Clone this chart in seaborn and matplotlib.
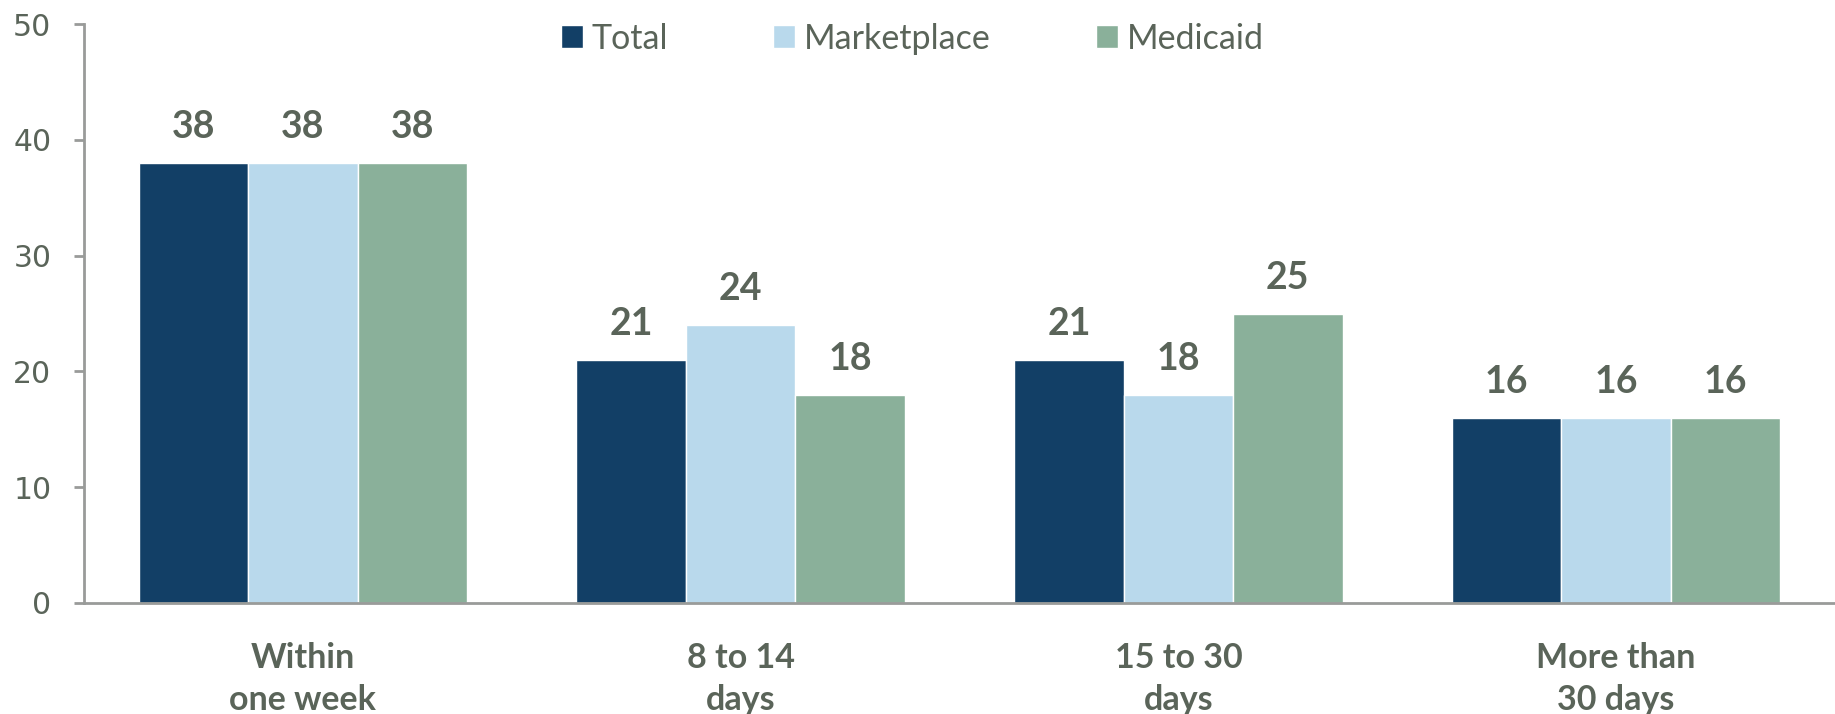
import matplotlib
matplotlib.use("Agg")
import matplotlib.pyplot as plt
from matplotlib import font_manager
import seaborn as sns
import pandas as pd

categories = ["Within\none week", "8 to 14\ndays", "15 to 30\ndays", "More than\n30 days"]
series = ["Total", "Marketplace", "Medicaid"]
total = [38, 21, 21, 16]
marketplace = [38, 24, 18, 16]
medicaid = [38, 18, 25, 16]
yticks = [0, 10, 20, 30, 40, 50]

colors = ["#123f66", "#b9d9ec", "#8ab09a"]
text_color = "#5a6459"
spine_color = "#999b99"

names = {f.name for f in font_manager.fontManager.ttflist}
narrow = "Liberation Sans Narrow" if "Liberation Sans Narrow" in names else "Lato"

rows = []
for s, vals in zip(series, [total, marketplace, medicaid]):
    for c, v in zip(categories, vals):
        rows.append({"category": c, "series": s, "value": v})
df = pd.DataFrame(rows)

sns.set_theme(style="white")
plt.rcParams["font.family"] = ["DejaVu Sans"]

fig = plt.figure(figsize=(18.35, 7.14), dpi=100)
left, top, bottom = 84, 24, 603
ax = fig.add_axes([left / 1835, 1 - bottom / 714, 1 - left / 1835, (bottom - top) / 714])

sns.barplot(data=df, x="category", y="value", hue="series", order=categories,
            hue_order=series, palette=colors, width=0.75, gap=0, saturation=1,
            ax=ax, legend=True)

ax.set_xlim(-0.5, 3.5)
ax.set_ylim(0, 50)
ax.set_yticks(yticks)
ax.set_xlabel("")
ax.set_ylabel("")

for cont in ax.containers:
    ax.bar_label(cont, fmt="%d", padding=13.5, fontsize=27, fontweight="bold",
                 color=text_color, family=["Lato"])

for side in ["top", "right"]:
    ax.spines[side].set_visible(False)
for side in ["left", "bottom"]:
    ax.spines[side].set_color(spine_color)
    ax.spines[side].set_linewidth(2)

ax.tick_params(axis="y", which="both", left=True, length=7.5, width=2, color=spine_color,
               labelsize=21.5, labelcolor=text_color, pad=16)
ax.tick_params(axis="x", bottom=False, pad=22)
for lab in ax.get_yticklabels():
    lab.set_family(["DejaVu Sans"])
for lab in ax.get_xticklabels():
    lab.set_family([narrow, "Lato"])
    lab.set_fontweight("bold")
    lab.set_fontsize(24.5)
    lab.set_color(text_color)
    lab.set_linespacing(1.4)

handles, labels = ax.get_legend_handles_labels()
ax.legend(handles, labels, loc="upper center", bbox_to_anchor=(0.473, 1.055), ncol=3,
          frameon=False, handlelength=0.65, handleheight=0.65, handletextpad=0.25,
          columnspacing=3.1,
          prop={"family": [narrow, "Lato"], "size": 24.5})
for t in ax.get_legend().get_texts():
    t.set_color(text_color)

fig.savefig("out.png", dpi=100)
